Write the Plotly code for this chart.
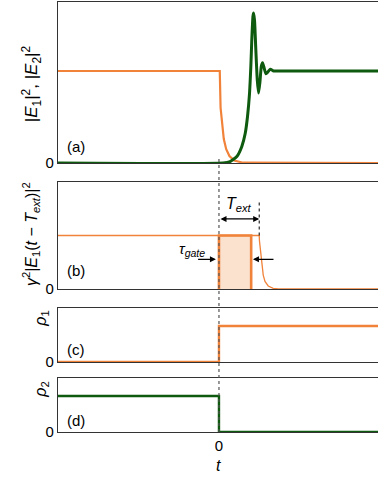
import plotly.graph_objects as go

# ---------------- data ----------------
# panel (a)
t_e1 = [-1, 0.005, 0.01, 0.02, 0.03, 0.045, 0.065, 0.095, 0.15, 0.988]
e1 = [1, 1, 0.6, 0.4, 0.26, 0.15, 0.075, 0.027, 0.003, 0]
t_e2 = [-1, 0.025, 0.069, 0.111, 0.142, 0.163, 0.177, 0.19, 0.198, 0.204, 0.211,
        0.215, 0.221, 0.229, 0.238, 0.246, 0.254, 0.263, 0.271, 0.281, 0.292,
        0.304, 0.319, 0.34, 0.36, 0.988]
e2 = [0, 0, 0.015, 0.07, 0.18, 0.32, 0.5, 0.76, 1.05, 1.34, 1.59,
      1.63, 1.55, 1.23, 0.9, 0.76, 0.87, 1.05, 1.09, 1.03, 0.97,
      0.99, 1.02, 1.0, 1.0, 1.0]
# panel (b)
t_shift = [-1, 0.25, 0.2515, 0.259, 0.265, 0.275, 0.286, 0.306, 0.337, 0.37, 0.988]
e1_shift = [1, 1, 0.9, 0.7, 0.45, 0.26, 0.14, 0.056, 0.013, 0, 0]
tau_gate = 0.2
t_ext = 0.25
gate_t = [0, 0, tau_gate, tau_gate]
gate_v = [0, 1, 1, 0]
# panels (c), (d)
t_rho = [-1, 0, 0, 0.988]
rho1 = [0, 0, 1, 1]
rho2 = [1, 1, 0, 0]

ORANGE = "#f0823a"
GREEN = "#0e5a0e"
FONT = "Liberation Sans"
FRAME = "#333333"

fig = go.Figure()
fig.add_trace(go.Scatter(x=t_e1, y=e1, mode="lines", line=dict(color=ORANGE, width=2.2),
                         xaxis="x", yaxis="y", showlegend=False))
fig.add_trace(go.Scatter(x=t_e2, y=e2, mode="lines", line=dict(color=GREEN, width=3, shape="spline", smoothing=0.5),
                         xaxis="x", yaxis="y", showlegend=False))
fig.add_trace(go.Scatter(x=gate_t, y=gate_v, mode="lines", fill="toself", fillcolor="#fbe2cf",
                         line=dict(color=ORANGE, width=2.6), xaxis="x2", yaxis="y2", showlegend=False))
fig.add_trace(go.Scatter(x=t_shift, y=e1_shift, mode="lines", line=dict(color=ORANGE, width=1.3),
                         xaxis="x2", yaxis="y2", showlegend=False))
fig.add_trace(go.Scatter(x=t_rho, y=rho1, mode="lines", line=dict(color=ORANGE, width=2.4),
                         xaxis="x3", yaxis="y3", showlegend=False))
fig.add_trace(go.Scatter(x=t_rho, y=rho2, mode="lines", line=dict(color=GREEN, width=2.4),
                         xaxis="x4", yaxis="y4", showlegend=False))

domains = {1: [0.6256, 1.0], 2: [0.3326, 0.5814], 3: [0.1628, 0.2884], 4: [0.0, 0.1256]}
yranges = {1: [0, 1.75], 2: [0, 2.0], 3: [0, 1.5], 4: [0, 1.5]}

layout = dict(
    width=378, height=477,
    margin=dict(l=58, r=0, t=2, b=45),
    paper_bgcolor="white", plot_bgcolor="white",
    font=dict(family=FONT, size=15, color="black"),
    showlegend=False,
)
for i in range(1, 5):
    xk = "xaxis" if i == 1 else f"xaxis{i}"
    yk = "yaxis" if i == 1 else f"yaxis{i}"
    ya = "y" if i == 1 else f"y{i}"
    layout[xk] = dict(range=[-1, 0.988], domain=[0, 1], anchor=ya, showgrid=False, zeroline=False,
                      showline=True, mirror=True, linecolor=FRAME, linewidth=1.2,
                      tickvals=[0], ticktext=["0"], ticks="",
                      showticklabels=(i == 4), tickfont=dict(size=15, family=FONT))
    layout[yk] = dict(range=yranges[i], domain=domains[i], anchor="x" if i == 1 else f"x{i}",
                      showgrid=False, zeroline=False, showline=True, mirror=False,
                      linecolor=FRAME, linewidth=1.2, tickvals=[0], ticktext=["0"], ticks="",
                      tickfont=dict(size=15, family=FONT))
fig.update_layout(**layout)

# dashed vertical line at t = 0
fig.add_shape(type="line", xref="x", yref="paper", x0=0, x1=0, y0=0, y1=0.6395,
              line=dict(color="#555555", width=1.2, dash="3px,3px"), layer="above")
# T_ext dotted marker
fig.add_shape(type="line", xref="x2", yref="y2", x0=t_ext, x1=t_ext, y0=1.0, y1=1.63,
              line=dict(color="black", width=1, dash="dot"), layer="above")

ann = []
# y-axis titles
ann.append(dict(text="|<i>E</i><sub>1</sub>|<sup>2</sup>, |<i>E</i><sub>2</sub>|<sup>2</sup>",
                xref="paper", yref="paper", x=-0.084, y=0.809, textangle=-90,
                showarrow=False, font=dict(size=17), xanchor="center", yanchor="middle"))
ann.append(dict(text="<i>γ</i><sup>2</sup>|<i>E</i><sub>1</sub>(<i>t</i> − <i>T</i><sub><i>ext</i></sub>)|<sup>2</sup>",
                xref="paper", yref="paper", x=-0.084, y=0.4605, textangle=-90,
                showarrow=False, font=dict(size=16), xanchor="center", yanchor="middle"))
ann.append(dict(text="<i>ρ</i><sub>1</sub>", xref="paper", yref="paper", x=-0.09, y=0.2395,
                textangle=-90, showarrow=False, font=dict(size=16)))
ann.append(dict(text="<i>ρ</i><sub>2</sub>", xref="paper", yref="paper", x=-0.09, y=0.0744,
                textangle=-90, showarrow=False, font=dict(size=16)))
# panel labels
for lab, yy in [("(a)", 0.6628), ("(b)", 0.3767), ("(c)", 0.1907), ("(d)", 0.0256)]:
    ann.append(dict(text=lab, xref="paper", yref="paper", x=0.022, y=yy, xanchor="left",
                    yanchor="middle", showarrow=False, font=dict(size=15)))
# x label
ann.append(dict(text="<i>t</i>", xref="x4", yref="paper", x=0, y=-0.079, showarrow=False,
                font=dict(size=16), xanchor="center", yanchor="middle"))
# T_ext arrow and label
ann.append(dict(text="", x=t_ext, y=1.31, ax=0, ay=1.31, xref="x2", yref="y2", axref="x2", ayref="y2",
                showarrow=True, arrowhead=2, arrowside="end+start", arrowsize=1, arrowwidth=1.2,
                arrowcolor="black"))
ann.append(dict(text="<i>T</i><sub><i>ext</i></sub>", x=0.124, y=1.57, xref="x2", yref="y2",
                showarrow=False, font=dict(size=16)))
# tau_gate arrows and label
ann.append(dict(text="", x=-0.019, y=0.555, ax=-0.139, ay=0.555, xref="x2", yref="y2",
                axref="x2", ayref="y2", showarrow=True, arrowhead=2, arrowsize=1,
                arrowwidth=1.2, arrowcolor="black"))
ann.append(dict(text="", x=0.211, y=0.555, ax=0.348, ay=0.555, xref="x2", yref="y2",
                axref="x2", ayref="y2", showarrow=True, arrowhead=2, arrowsize=1,
                arrowwidth=1.2, arrowcolor="black"))
ann.append(dict(text="<i>τ</i><sub><i>gate</i></sub>", x=-0.168, y=0.74, xref="x2", yref="y2",
                showarrow=False, font=dict(size=15)))
fig.update_layout(annotations=ann)

fig.write_html("out.html", config={"displayModeBar": False},
               post_script="document.body.style.margin='0px';document.body.style.overflow='hidden';")
